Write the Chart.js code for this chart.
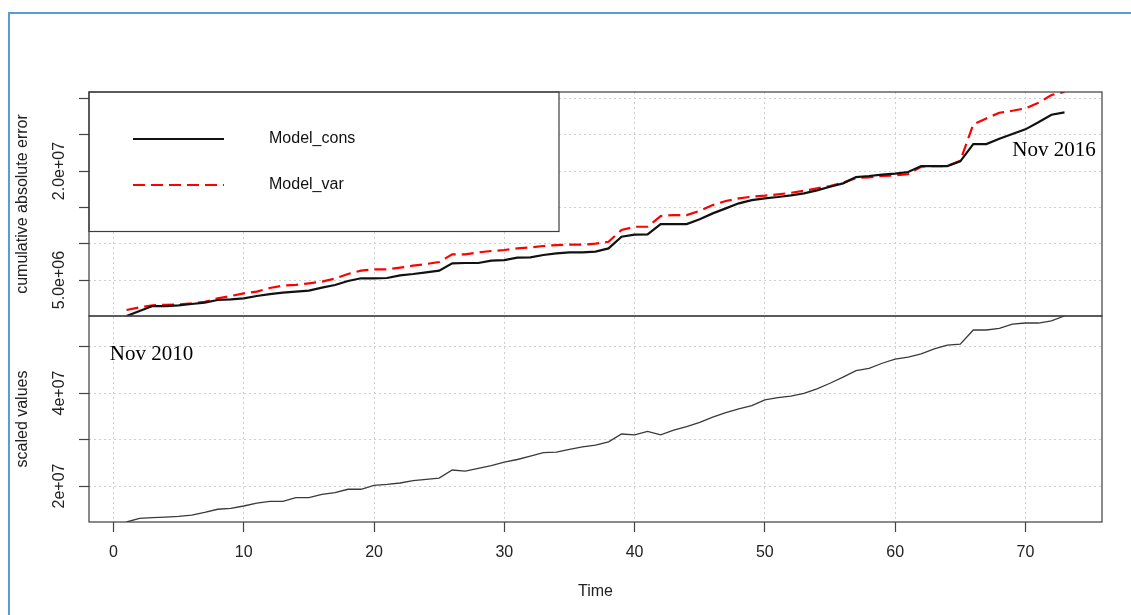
<!DOCTYPE html>
<html>
<head>
<meta charset="utf-8">
<title>Cumulative absolute error and scaled values</title>
<script src="https://cdn.jsdelivr.net/npm/chart.js@4.4.1/dist/chart.umd.min.js"></script>
<style>
  html, body { margin: 0; padding: 0; background: #fff; overflow: hidden; }
  #frame { position: absolute; left: 8px; top: 12px; width: 1140px; height: 620px;
           border-left: 2px solid #5b9bd5; border-top: 2px solid #5b9bd5; }
  #wrap { position: absolute; left: 0; top: 0; width: 1131px; height: 615px; }
</style>
</head>
<body>
<div id="frame"></div>
<div id="wrap"><canvas id="errChart"></canvas></div>
<script>
const FONT = '"Liberation Sans", Arial, sans-serif';
const SERIF = '"Liberation Serif", "Times New Roman", serif';

// time index (months, Nov 2010 .. Nov 2016)
const timeIdx = Array.from({ length: 73 }, (_, i) => i + 1);

// cumulative absolute error, in millions
const consError = [
  0.05, 0.73, 1.42, 1.42, 1.51, 1.70, 1.88, 2.25, 2.34, 2.48,
  2.80, 3.07, 3.26, 3.40, 3.54, 3.95, 4.32, 4.87, 5.24, 5.24,
  5.28, 5.65, 5.83, 6.06, 6.29, 7.29, 7.34, 7.34, 7.66, 7.75,
  8.07, 8.12, 8.44, 8.67, 8.80, 8.80, 8.90, 9.35, 10.96, 11.24,
  11.28, 12.70, 12.70, 12.70, 13.35, 14.17, 14.86, 15.55, 16.00, 16.24,
  16.42, 16.65, 16.93, 17.34, 17.84, 18.30, 19.17, 19.31, 19.49, 19.63,
  19.86, 20.68, 20.68, 20.68, 21.33, 23.71, 23.71, 24.44, 25.09, 25.73,
  26.70, 27.74, 28.07
];
const varError = [
  0.87, 1.24, 1.51, 1.60, 1.65, 1.79, 2.00, 2.48, 2.80, 3.17,
  3.40, 3.90, 4.23, 4.32, 4.55, 4.78, 5.19, 5.83, 6.29, 6.47,
  6.47, 6.70, 6.97, 7.20, 7.48, 8.53, 8.53, 8.80, 8.99, 9.13,
  9.35, 9.49, 9.68, 9.81, 9.86, 9.86, 10.00, 10.27, 11.88, 12.33,
  12.33, 13.80, 13.94, 13.94, 14.53, 15.31, 15.87, 16.24, 16.46, 16.60,
  16.79, 17.00, 17.29, 17.61, 17.93, 18.38, 19.03, 19.13, 19.31, 19.40,
  19.58, 20.59, 20.68, 20.68, 21.41, 26.42, 27.24, 28.01, 28.29, 28.62,
  29.39, 30.45, 30.87
];

// scaled values, in units of 1e7
const scaledVals = [
  1.226, 1.305, 1.320, 1.330, 1.345, 1.376, 1.434, 1.500, 1.520, 1.570,
  1.630, 1.670, 1.670, 1.750, 1.750, 1.820, 1.856, 1.930, 1.930, 2.015,
  2.036, 2.065, 2.115, 2.143, 2.170, 2.344, 2.320, 2.380, 2.437, 2.516,
  2.570, 2.645, 2.717, 2.730, 2.790, 2.840, 2.880, 2.950, 3.118, 3.100,
  3.176, 3.100, 3.200, 3.275, 3.370, 3.480, 3.580, 3.660, 3.730, 3.850,
  3.900, 3.935, 3.990, 4.090, 4.210, 4.340, 4.480, 4.530, 4.640, 4.730,
  4.770, 4.840, 4.950, 5.030, 5.050, 5.355, 5.355, 5.390, 5.480, 5.505,
  5.505, 5.550, 5.656
];

const seriesNames = ["Model_cons", "Model_var"];
const xTicks = [0, 10, 20, 30, 40, 50, 60, 70];
const topTicks = [5, 10, 15, 20, 25, 30];
const topTickLabels = ["5.0e+06", "", "", "2.0e+07", "", ""];
const botTicks = [2, 3, 4, 5];
const botTickLabels = ["2e+07", "", "4e+07", ""];

// R-like extents: x padded by 4%, y panels fitted to their data
const xSpan = timeIdx[timeIdx.length - 1] - timeIdx[0];
const xMin = timeIdx[0] - 0.04 * xSpan;
const xMax = timeIdx[timeIdx.length - 1] + 0.04 * xSpan;
const topMin = Math.min(...consError, ...varError);
const topMax = Math.max(...consError, ...varError);

const gridCommon = {
  color: "#cfcfcf",
  lineWidth: 1,
  tickLength: 10,
  tickColor: "#444",
  tickWidth: 1.2,
  tickBorderDash: [],
};
const axisTitle = (text, padding) => ({
  display: true,
  text: text,
  color: "#222",
  font: { family: FONT, size: 16 },
  padding: padding,
});

// frames, legend, rotated y labels and date notes, drawn R style
const panelDecor = {
  id: "panelDecor",
  afterDraw(chart) {
    const { ctx, chartArea: a, scales } = chart;
    const x = scales.x, yTop = scales.yTop, yBot = scales.yBot;
    ctx.save();

    ctx.fillStyle = "#222";
    ctx.font = "16px " + FONT;
    ctx.textAlign = "center";
    ctx.textBaseline = "middle";
    [[yTop, topTicks, topTickLabels], [yBot, botTicks, botTickLabels]].forEach(([s, vals, labs]) => {
      vals.forEach((v, i) => {
        if (!labs[i]) return;
        ctx.save();
        ctx.translate(a.left - 29, s.getPixelForValue(v));
        ctx.rotate(-Math.PI / 2);
        ctx.fillText(labs[i], 0, 0);
        ctx.restore();
      });
    });

    // legend box
    const lx = a.left, ly = yTop.top;
    ctx.fillStyle = "#fff";
    ctx.fillRect(lx, ly, 470, 139.5);
    ctx.strokeStyle = "#3c3c3c";
    ctx.lineWidth = 1.2;
    ctx.strokeRect(lx, ly, 470, 139.5);
    ctx.lineWidth = 2.2;
    ctx.strokeStyle = "#111";
    ctx.beginPath();
    ctx.moveTo(lx + 44, ly + 47);
    ctx.lineTo(lx + 135, ly + 47);
    ctx.stroke();
    ctx.strokeStyle = "#ff0000";
    ctx.setLineDash([12, 6]);
    ctx.beginPath();
    ctx.moveTo(lx + 44, ly + 93);
    ctx.lineTo(lx + 135, ly + 93);
    ctx.stroke();
    ctx.setLineDash([]);
    ctx.fillStyle = "#111";
    ctx.textAlign = "left";
    ctx.fillText(seriesNames[0], lx + 180, ly + 47);
    ctx.fillText(seriesNames[1], lx + 180, ly + 93);

    // panel boxes
    ctx.strokeStyle = "#3c3c3c";
    ctx.lineWidth = 1.2;
    ctx.strokeRect(a.left, yTop.top, a.right - a.left, yTop.bottom - yTop.top);
    ctx.strokeRect(a.left, yBot.top, a.right - a.left, yBot.bottom - yBot.top);

    // date notes
    ctx.font = "21px " + SERIF;
    ctx.fillStyle = "#000";
    ctx.textAlign = "center";
    ctx.fillText("Nov 2010", x.getPixelForValue(2.92), yBot.getPixelForValue(4.83));
    ctx.fillText("Nov 2016", x.getPixelForValue(72.2), yTop.getPixelForValue(22.77));
    ctx.restore();
  },
};

new Chart(document.getElementById("errChart"), {
  type: "line",
  data: {
    labels: timeIdx,
    datasets: [
      {
        label: seriesNames[0],
        data: consError,
        yAxisID: "yTop",
        borderColor: "#111",
        borderWidth: 2.2,
        pointRadius: 0,
        tension: 0,
      },
      {
        label: seriesNames[1],
        data: varError,
        yAxisID: "yTop",
        borderColor: "#ff0000",
        borderWidth: 2.2,
        borderDash: [12, 6],
        pointRadius: 0,
        tension: 0,
      },
      {
        label: "scaled values",
        data: scaledVals,
        yAxisID: "yBot",
        borderColor: "#3a3a3a",
        borderWidth: 1.3,
        pointRadius: 0,
        tension: 0,
      },
    ],
  },
  options: {
    responsive: true,
    maintainAspectRatio: false,
    animation: false,
    events: [],
    layout: { padding: { top: 92, right: 29, left: 0, bottom: 0 } },
    plugins: {
      legend: { display: false },
      tooltip: { enabled: false },
    },
    scales: {
      x: {
        type: "linear",
        position: "bottom",
        min: xMin,
        max: xMax,
        afterBuildTicks: (s) => { s.ticks = xTicks.map((v) => ({ value: v })); },
        afterFit: (s) => { s.height = 93; },
        grid: gridCommon,
        border: { display: false, dash: [2, 3] },
        ticks: {
          color: "#222",
          font: { family: FONT, size: 16 },
          padding: 11,
          maxRotation: 0,
          autoSkip: false,
        },
        title: axisTitle("Time", { top: 0, bottom: 13.6 }),
      },
      yBot: {
        type: "linear",
        position: "left",
        stack: "panels",
        stackWeight: 206,
        min: Math.min(...scaledVals),
        max: Math.max(...scaledVals),
        afterBuildTicks: (s) => { s.ticks = botTicks.map((v) => ({ value: v })); },
        afterFit: (s) => { s.width = 89; },
        grid: gridCommon,
        border: { display: false, dash: [2, 3] },
        ticks: { display: false },
        title: axisTitle("scaled values", { top: 13, bottom: 0 }),
      },
      yTop: {
        type: "linear",
        position: "left",
        stack: "panels",
        stackWeight: 224,
        min: topMin,
        max: topMax,
        afterBuildTicks: (s) => { s.ticks = topTicks.map((v) => ({ value: v })); },
        afterFit: (s) => { s.width = 89; },
        grid: gridCommon,
        border: { display: false, dash: [2, 3] },
        ticks: { display: false },
        title: axisTitle("cumulative absolute error", { top: 13, bottom: 0 }),
      },
    },
  },
  plugins: [panelDecor],
});
</script>
</body>
</html>
